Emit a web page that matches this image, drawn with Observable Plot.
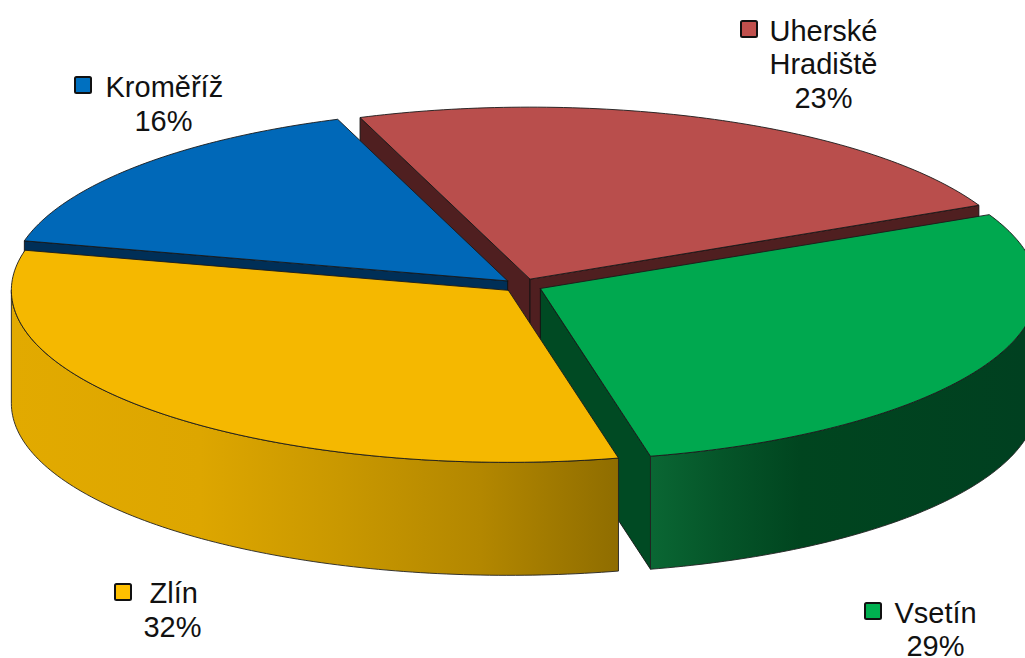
<!DOCTYPE html>
<html>
<head>
<meta charset="utf-8">
<script src="https://cdn.jsdelivr.net/npm/d3@7"></script>
<script src="https://cdn.jsdelivr.net/npm/@observablehq/plot@0.6"></script>
<style>
html,body{margin:0;padding:0;background:#fff;overflow:hidden}
svg{display:block}
</style>
</head>
<body>
<div id="chart"></div>
<script>
// Data (labels show these values rounded)
const categories = ["Uherské Hradiště", "Vsetín", "Zlín", "Kroměříž"];
const shares = [23.49, 28.51, 32.3, 15.7];
const labelLines = [["Uherské", "Hradiště"], ["Vsetín"], ["Zlín"], ["Kroměříž"]];

// Styles
const topColors = ["#B94E4C", "#00A84F", "#F5B800", "#0068B8"];
const keyColors = ["#C0504D", "#00B050", "#FFC000", "#0070C0"];
const wallColors = ["#4F1F20", "#004A23", "#7A5E00", "#002F57"];
const sideStops = [
  null,
  {x: [652, 720, 800, 1025], c: ["#0A6633", "#055529", "#00451F", "#004020"]},
  {x: [11, 200, 340, 480, 618], c: ["#E2AA00", "#DDA600", "#C99800", "#B38700", "#8F6D00"]},
  null
];

// Layout
const W = 1025, H = 658;
const cx = 522, cy = 285, rx = 497, ry = 172, depth = 113, explode = 0.04, startDeg = -110;
const paintOrder = [0, 3, 1, 2];
const keyBoxes = [[741, 21], [865, 603], [115, 584], [75, 77]];
const keySize = 16, fontSize = 29, lineGap = 33.5;
const textStart = [[769, 40], [894, 622], [149, 602], [105, 96]];
const pctPos = [[823, 107], [935, 655], [172, 636], [163, 130]];

const rad = d => d * Math.PI / 180;
let acc = startDeg;
const slices = shares.map((v, i) => {
  const a0 = acc, a1 = acc + v * 3.6; acc = a1;
  const mid = rad((a0 + a1) / 2);
  return {i, a0, a1, tip: {x: cx + rx * explode * Math.cos(mid), y: cy + ry * explode * Math.sin(mid)}};
});
const rim = (s, a, d = 0) => ({x: s.tip.x + rx * Math.cos(rad(a)), y: s.tip.y + ry * Math.sin(rad(a)) + d});
const arc = (s, a, b, d = 0) => {
  const n = Math.max(1, Math.ceil(Math.abs(b - a)));
  return d3.range(n + 1).map(k => rim(s, a + (b - a) * k / n, d));
};
const poly = (id, pts) => pts.map(p => ({id, x: p.x, y: p.y}));
const facing = deg => Math.sin(rad(deg)) > 0;

const walls = [], sides = [], tops = [];
for (const s of slices) {
  const {i, tip, a0, a1} = s;
  for (const [a, normal] of [[a0, a0 - 90], [a1, a1 + 90]]) {
    if (!facing(normal)) continue;
    const r = rim(s, a);
    walls.push(...poly(`w${i}-${a}`, [tip, r, {x: r.x, y: r.y + depth}, {x: tip.x, y: tip.y + depth}, tip]));
  }
  const lo = Math.max(a0, 0), hi = Math.min(a1, 180);
  if (hi > lo) {
    const top = arc(s, lo, hi), bot = arc(s, hi, lo, depth);
    sides.push(...poly(`s${i}`, [...top, ...bot, top[0]]));
  }
  tops.push(...poly(`t${i}`, [tip, ...arc(s, a0, a1), tip]));
}
const ofSlice = (rows, i) => rows.filter(r => r.id.slice(1).split("-")[0] === String(i));

// SVG gradients for the shaded outer sides, positioned through the x scale
const gradientDefs = (index, {x}) => {
  const defs = d3.create("svg:defs");
  sideStops.forEach((st, i) => {
    if (!st) return;
    const g = defs.append("linearGradient").attr("id", `side${i}`)
      .attr("gradientUnits", "userSpaceOnUse")
      .attr("x1", x(st.x[0])).attr("x2", x(st.x[st.x.length - 1])).attr("y1", 0).attr("y2", 0);
    const span = st.x[st.x.length - 1] - st.x[0];
    st.x.forEach((v, k) => g.append("stop").attr("offset", (v - st.x[0]) / span).attr("stop-color", st.c[k]));
  });
  return defs.node();
};

const sharedLine = {x: "x", y: "y", z: "id", clip: true};
const pieMarks = paintOrder.flatMap(i => [
  Plot.line(ofSlice(walls, i), {...sharedLine, fill: wallColors[i], stroke: "#111", strokeWidth: 0.9}),
  Plot.line(ofSlice(sides, i), {...sharedLine, fill: `url(#side${i})`, stroke: "#222", strokeWidth: 0.9}),
  Plot.line(ofSlice(tops, i), {...sharedLine, fill: topColors[i], stroke: "#1a1a1a", strokeWidth: 0.9})
]);

const keys = categories.map((c, i) => ({
  c, x1: keyBoxes[i][0], x2: keyBoxes[i][0] + keySize,
  y1: keyBoxes[i][1], y2: keyBoxes[i][1] + keySize, fill: keyColors[i]
}));
const nameRows = labelLines.flatMap((lines, i) => lines.map((t, k) => ({
  t, x: textStart[i][0], y: textStart[i][1] + k * lineGap
})));
const pctRows = shares.map((v, i) => ({t: `${Math.round(v)}%`, x: pctPos[i][0], y: pctPos[i][1]}));
const textStyle = {text: "t", x: "x", y: "y", fontSize, lineAnchor: "bottom", fill: "#111", fontFamily: "'Liberation Sans', Arial, sans-serif"};

const chart = Plot.plot({
  width: W, height: H,
  margin: 0,
  x: {domain: [0, W], range: [0, W], axis: null},
  y: {domain: [0, H], range: [0, H], axis: null},
  color: {type: "identity"},
  marks: [
    gradientDefs,
    ...pieMarks,
    Plot.rect(keys, {x1: "x1", x2: "x2", y1: "y1", y2: "y2", fill: d => d.fill, stroke: "#111", strokeWidth: 2, rx: 1.5}),
    Plot.text(nameRows, {...textStyle, textAnchor: "start"}),
    Plot.text(pctRows, {...textStyle, textAnchor: "middle"})
  ]
});
document.getElementById("chart").appendChild(chart);
</script>
</body>
</html>
